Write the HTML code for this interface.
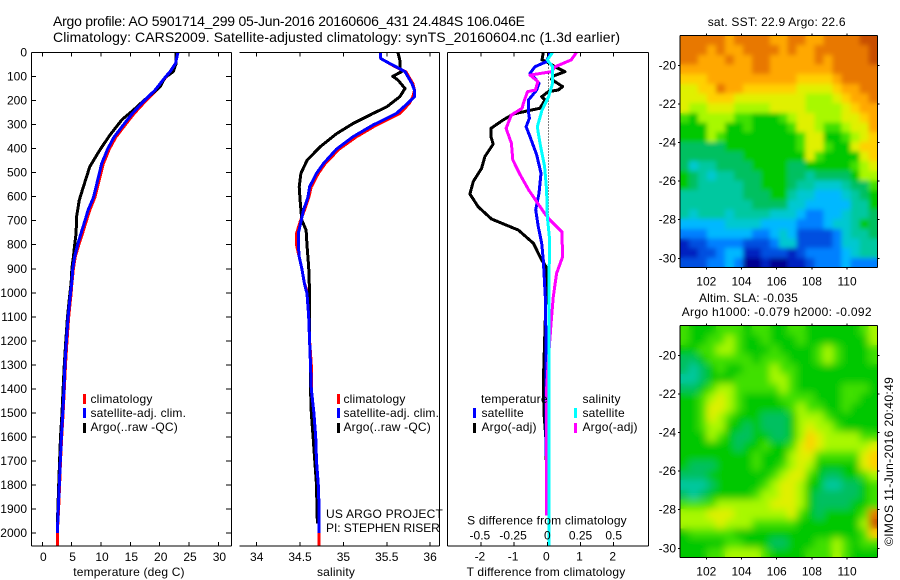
<!DOCTYPE html>
<html>
<head>
<meta charset="utf-8">
<title>Argo profile</title>
<style>
html,body{margin:0;padding:0;background:#fff;}
svg{display:block;}
text{font-family:"Liberation Sans",sans-serif;font-size:12px;fill:#000;letter-spacing:.18px;}
.t14{font-size:14px;letter-spacing:0;}
.m{text-anchor:middle;}
</style>
</head>
<body>
<svg id="chart" xmlns="http://www.w3.org/2000/svg" width="900" height="580" viewBox="0 0 900 580">
  <defs>
    <clipPath id="clip-sst"><rect x="680" y="35.5" width="197.5" height="232"/></clipPath>
    <clipPath id="clip-sla"><rect x="680" y="325.5" width="197.5" height="232"/></clipPath>
    <filter id="soft-sst" filterUnits="userSpaceOnUse" x="660" y="15" width="240" height="275">
      <feGaussianBlur in="SourceGraphic" stdDeviation="2.5" result="b"/>
      <feMerge><feMergeNode in="SourceGraphic"/><feMergeNode in="b"/></feMerge>
    </filter>
    <filter id="soft-sla" filterUnits="userSpaceOnUse" x="660" y="305" width="240" height="275">
      <feGaussianBlur in="SourceGraphic" stdDeviation="4" result="b"/>
      <feMerge><feMergeNode in="SourceGraphic"/><feMergeNode in="b"/></feMerge>
    </filter>
  </defs>
  <text class="t14" x="53" y="26" textLength="472" lengthAdjust="spacing">Argo profile: AO 5901714_299 05-Jun-2016 20160606_431 24.484S 106.046E</text>
  <text class="t14" x="53" y="42" textLength="567" lengthAdjust="spacing">Climatology: CARS2009. Satellite-adjusted climatology: synTS_20160604.nc (1.3d earlier)</text>

  <g clip-path="url(#clip-sst)"><g id="layer-sst" filter="url(#soft-sst)"></g></g>
  <g clip-path="url(#clip-sla)"><g id="layer-sla" filter="url(#soft-sla)"></g></g>
  <g id="layer-series"></g>
  <g id="layer-axes"></g>

  <text class="m" x="129" y="576">temperature (deg C)</text>
  <text class="m" x="336" y="576">salinity</text>
  <text class="m" x="546" y="576">T difference from climatology</text>
  <text class="m" x="547" y="524.5">S difference from climatology</text>

  <g>
    <rect x="83" y="394" width="3" height="10" fill="#f00"/>
    <text x="90.5" y="403">climatology</text>
    <rect x="83" y="408" width="3" height="10" fill="#00f"/>
    <text x="90.5" y="417">satellite-adj. clim.</text>
    <rect x="83" y="423" width="3" height="10" fill="#000"/>
    <text x="90.5" y="431">Argo(..raw -QC)</text>
  </g>
  <g>
    <rect x="337" y="394" width="3" height="10" fill="#f00"/>
    <text x="343.5" y="403">climatology</text>
    <rect x="337" y="408" width="3" height="10" fill="#00f"/>
    <text x="343.5" y="417">satellite-adj. clim.</text>
    <rect x="337" y="423" width="3" height="10" fill="#000"/>
    <text x="343.5" y="431">Argo(..raw -QC)</text>
  </g>
  <text x="326" y="518" textLength="117" lengthAdjust="spacing">US ARGO PROJECT</text>
  <text x="326" y="532" textLength="114" lengthAdjust="spacing">PI: STEPHEN RISER</text>

  <g>
    <text x="481" y="403">temperature</text>
    <rect x="473" y="408" width="3" height="10" fill="#00f"/>
    <text x="481.5" y="417">satellite</text>
    <rect x="473" y="423" width="3" height="10" fill="#000"/>
    <text x="481.5" y="431">Argo(-adj)</text>
    <text x="582.5" y="403">salinity</text>
    <rect x="574" y="408" width="3" height="10" fill="#0ff"/>
    <text x="582.5" y="417">satellite</text>
    <rect x="574" y="423" width="3" height="10" fill="#f0f"/>
    <text x="582.5" y="431">Argo(-adj)</text>
  </g>

  <text x="707.7" y="26" textLength="138" lengthAdjust="spacing">sat. SST: 22.9 Argo: 22.6</text>
  <text x="699" y="302" textLength="99" lengthAdjust="spacing">Altim. SLA: -0.035</text>
  <text x="681.7" y="316" textLength="190" lengthAdjust="spacing">Argo h1000: -0.079 h2000: -0.092</text>
  <text transform="translate(893,546) rotate(-90)" textLength="169" lengthAdjust="spacing">©IMOS 11-Jun-2016 20:40:49</text>
</svg>

<script>
const depthTicks = [0,100,200,300,400,500,600,700,800,900,1000,1100,1200,1300,1400,1500,1600,1700,1800,1900,2000];
const tempTicks = [0,5,10,15,20,25,30];
const salTicks = [34,34.5,35,35.5,36];
const salTickLabels = ["34","34.5","35","35.5","36"];
const tDiffTicks = [-2,-1,0,1,2];
const sDiffTicks = [-0.5,-0.25,0,0.25,0.5];
const sDiffLabels = ["-0.5","-0.25","0","0.25","0.5"];
const lonTicks = [102,104,106,108,110];
const latTicks = [-20,-22,-24,-26,-28,-30];

const climTempDepth = [0,46,80,104,157,202,255,305,353,403,463,505,560,604,656,705,753,802,850,899,961,1003,1100,1200,1300,1400,1500,1600,1700,1800,1900,2000,2054];
const climTemp = [23.1,22.7,21.8,21.0,19.4,17.6,15.6,14.0,12.5,11.4,10.4,9.95,9.4,8.95,8.1,7.45,6.85,6.2,5.6,5.3,5.05,4.9,4.5,4.2,3.95,3.75,3.55,3.3,3.1,2.95,2.78,2.56,2.56];
const adjTempDepth = [0,46,80,104,157,202,255,305,353,403,463,505,560,604,656,705,753,802,850,899,961,1003,1100,1200,1300,1400,1500,1600,1700,1800,1900,2000];
const adjTemp = [23.1,22.7,21.75,20.9,19.2,17.3,15.3,13.7,12.2,11.1,10.1,9.7,9.15,8.7,7.8,7.2,6.6,6.0,5.5,5.2,5.0,4.8,4.4,4.1,3.85,3.7,3.5,3.25,3.07,2.9,2.73,2.56];
const argoTempDepth = [0,46,80,104,143,202,240,279,344,406,475,559,614,683,753,802,850,899,961,1003,1100,1200,1300,1400,1500,1600,1700,1800,1900,1960];
const argoTemp = [22.8,22.8,22.3,20.9,20.05,17.2,15.5,13.6,11.5,9.8,8.1,7.0,6.3,5.85,5.75,5.5,5.3,5.05,4.9,4.7,4.3,4.0,3.75,3.55,3.35,3.1,2.95,2.8,2.65,2.55];

const adjSalDepth = [0,25,39,60,80,129,157,184,212,254,302,351,402,462,503,559,603,656,705,753,802,850,899,961,1003,1100,1200,1300,1400,1500,1600,1700,1800,1900,2000];
const adjSal = [35.43,35.43,35.5,35.61,35.71,35.79,35.82,35.82,35.74,35.61,35.34,35.11,34.92,34.77,34.69,34.61,34.59,34.54,34.51,34.48,34.48,34.49,34.52,34.55,34.58,34.6,34.61,34.62,34.63,34.66,34.68,34.69,34.71,34.72,34.72];
const climSalDepth = [0,25,39,60,80,129,157,184,212,254,302,351,402,462,503,559,603,656,705,753,802,850,899,961,1003,1100,1200,1300,1400,1500,1600,1700,1800,1900,2000,2054];
const climSal = [35.43,35.43,35.5,35.6,35.72,35.8,35.82,35.8,35.76,35.65,35.38,35.15,34.95,34.79,34.71,34.63,34.6,34.55,34.5,34.46,34.46,34.49,34.52,34.55,34.59,34.6,34.61,34.63,34.63,34.66,34.68,34.69,34.71,34.72,34.72,34.72];
const argoSalDepth = [0,32,60,80,99,115,150,184,226,254,296,338,393,449,503,559,614,698,739,802,893,1003,1100,1200,1300,1400,1500,1600,1700,1800,1900,1960];
const argoSal = [35.63,35.65,35.65,35.67,35.57,35.63,35.71,35.65,35.5,35.34,35.11,34.92,34.73,34.58,34.51,34.49,34.5,34.52,34.57,34.58,34.6,34.61,34.61,34.61,34.62,34.62,34.63,34.65,34.67,34.69,34.695,34.7];

const argoTDiffDepth = [0,31,42,59,80,98,112,142,156,163,184,198,232,242,256,281,316,350,381,433,482,537,589,642,693,739,794,864,891,1016,1376,1502,1613,1696];
const argoTDiff = [-0.12,-0.16,0.03,0.23,0.53,0.18,0.13,0.46,0.33,0.03,-0.17,-0.07,-0.22,-0.57,-1.02,-1.33,-1.70,-1.70,-1.63,-1.88,-1.98,-2.23,-2.33,-2.08,-1.68,-0.87,-0.42,-0.17,-0.04,-0.04,-0.12,-0.10,-0.04,-0.04];
const adjTDiffDepth = [0,38,59,87,107,128,156,198,246,274,309,350,426,503,586,655,725,794,864,1016,1200,1680];
const adjTDiff = [0.08,-0.02,-0.37,-0.52,-0.37,-0.25,-0.32,-0.57,-0.57,-0.54,-0.64,-0.52,-0.32,-0.19,-0.25,-0.35,-0.27,-0.17,-0.12,-0.06,-0.04,-0.04];
const adjSDiffDepth = [0,31,59,128,184,240,309,378,475,572,683,766,864,1016,1500,2054];
const adjSDiff = [0.04,0,0.04,0.04,0.01,-0.04,-0.075,-0.055,-0.02,-0.005,0,0.015,0.015,0.012,0.011,0.011];
const argoSDiffDepth = [0,31,59,80,94,121,156,163,212,232,260,316,378,447,503,572,669,697,746,850,919,1016,1114,1266,1400,1600,1927];
const argoSDiff = [0.22,0.18,0.06,0.03,-0.13,-0.07,-0.09,-0.15,-0.18,-0.19,-0.27,-0.31,-0.27,-0.26,-0.21,-0.14,-0.02,0.02,0.11,0.115,0.07,0.045,0.03,0.01,-0.005,-0.005,-0.005];

const mapPalette = ["#000090","#0020c0","#0050e0","#0080ff","#00b8ff","#00c8d0","#00c8a0","#00c060","#00c800","#40e000","#a8f800","#e0f000","#ffd000","#ffa800","#e87800","#c85000"];

const sstLevels = [
[14,14,14,14,14,13,14,14,14,14,13,13,14,14,13,13,14,14,14,14,15,15],
[14,14,14,13,14,13,13,14,14,14,14,13,14,13,13,14,14,14,14,14,14,15],
[14,14,13,13,13,14,13,13,14,14,13,13,13,13,13,14,13,14,14,14,14,15],
[13,13,13,13,13,13,13,13,14,14,13,13,13,13,13,13,13,14,14,14,14,14],
[12,12,12,13,13,13,13,13,13,13,13,13,13,12,12,12,12,13,14,14,14,14],
[11,11,12,12,14,13,13,12,12,12,12,12,12,11,11,11,11,12,13,13,14,14],
[11,11,11,12,12,12,11,11,11,11,11,11,11,11,10,10,10,11,12,13,13,14],
[11,10,10,11,11,11,10,10,10,10,11,11,11,11,10,10,10,10,11,12,13,13],
[9,8,10,10,10,10,9,9,8,8,8,9,10,11,11,10,10,10,11,11,12,13],
[8,8,8,10,10,8,8,9,8,8,8,8,9,11,11,10,9,9,10,11,11,13],
[8,8,8,10,9,8,8,8,8,8,8,8,8,9,11,11,8,8,9,10,11,12],
[7,7,7,7,7,8,8,8,8,8,8,8,8,9,11,11,9,8,8,11,12,12],
[7,7,7,7,7,7,7,8,8,8,8,8,8,8,11,9,8,8,8,8,11,12],
[7,5,6,6,7,7,7,7,8,8,8,8,7,7,8,8,8,8,8,9,10,11],
[8,7,6,5,6,6,7,7,7,8,8,8,7,7,6,7,7,7,7,8,10,10],
[8,7,6,6,6,6,6,7,7,8,8,8,7,6,6,5,5,5,6,7,7,9],
[6,6,6,6,6,6,6,7,7,7,8,8,6,5,5,4,4,4,5,6,7,8],
[6,6,6,6,6,6,6,6,7,7,7,7,5,5,4,4,4,4,4,6,6,8],
[6,5,6,6,6,5,6,6,6,6,5,5,5,4,3,3,4,4,5,6,6,7],
[4,4,4,4,4,5,5,5,5,4,4,4,4,3,3,3,4,5,5,6,8,7],
[3,3,3,4,4,4,4,4,3,3,4,5,4,2,2,2,2,3,5,6,6,7],
[1,2,2,3,3,3,3,2,2,2,3,5,5,2,2,2,2,3,5,5,6,6],
[1,1,2,2,3,4,4,1,1,2,2,2,1,2,3,3,3,3,4,5,6,6],
[2,2,2,3,3,4,3,0,0,1,0,0,1,1,2,3,3,3,4,3,3,3]
];

const slaLevels = [
[9,8,8,8,9,9,9,8,9,9,8,8,9,9,8,8,8,8,8,8,9,10],
[9,8,8,9,9,10,9,8,8,9,8,8,8,9,8,8,8,8,8,8,8,10],
[8,8,9,9,10,10,9,8,8,8,9,8,8,8,8,9,10,9,8,8,8,9],
[7,7,8,9,9,9,9,9,8,9,9,9,8,8,8,9,10,9,8,8,8,9],
[7,6,7,8,9,8,8,9,9,9,10,9,9,8,8,8,8,8,8,8,8,8],
[6,6,7,8,8,8,9,9,9,9,10,10,9,8,8,8,8,8,8,8,8,8],
[7,7,8,9,10,10,9,9,9,9,9,10,9,8,8,8,8,8,9,9,9,8],
[8,8,9,10,11,10,9,8,8,8,8,9,9,9,9,8,8,8,9,9,8,8],
[8,8,9,11,11,10,9,8,8,8,8,8,9,10,9,9,8,8,9,8,8,8],
[8,8,9,11,10,9,8,8,8,7,7,7,8,10,10,10,9,8,8,8,8,8],
[8,8,9,10,10,8,8,7,8,7,7,7,8,10,11,10,10,9,8,8,8,8],
[8,8,8,10,9,8,7,7,8,8,7,7,8,10,12,11,10,10,10,10,9,9],
[8,8,8,8,8,8,7,8,8,9,8,8,9,11,12,11,10,10,10,10,10,11],
[8,8,8,8,8,8,8,8,9,8,8,8,10,11,11,9,9,9,9,9,11,12],
[8,7,7,7,8,8,8,8,9,8,8,9,10,11,10,8,8,8,8,8,11,12],
[7,7,7,8,8,8,8,8,8,8,9,10,11,11,9,8,7,7,8,8,9,10],
[6,6,6,7,8,8,8,8,8,9,10,11,11,10,8,8,6,6,7,7,8,9],
[7,6,7,8,8,8,8,8,9,10,10,11,11,10,8,7,7,7,7,7,8,9],
[9,9,9,9,10,10,10,10,10,10,11,11,11,10,8,7,7,7,7,8,8,9],
[10,10,10,11,11,11,10,10,10,10,10,10,11,9,8,7,8,8,8,8,9,14],
[10,10,10,10,11,10,10,10,9,9,9,9,9,8,8,8,8,8,8,8,10,15],
[8,9,9,9,9,9,8,8,8,8,8,8,8,8,8,8,8,8,8,8,9,12],
[8,8,8,8,8,9,9,8,8,8,7,7,8,8,8,9,9,10,9,8,9,9],
[8,8,8,9,9,10,10,10,10,9,8,8,8,8,9,9,9,10,9,8,8,8]
];

const NS = "http://www.w3.org/2000/svg";
const seriesLayer = document.getElementById("layer-series");
const axesLayer = document.getElementById("layer-axes");
const sstLayer = document.getElementById("layer-sst");
const slaLayer = document.getElementById("layer-sla");

const yDepth = d => 52.5 + d * 0.2403;
const xTemp = v => 42.3 + v * 5.87;
const xSal = v => 256.7 + (v - 34) * 86.7;
const xTDiff = v => 547.3 + v * 33.2;
const xSDiff = v => 547.3 + v * 132.8;
const xLon = v => 706.3 + (v - 102) * 17.6;
const yLatTop = v => 65.3 + (-20 - v) * 19.3;
const yLatBottom = v => 355.3 + (-20 - v) * 19.3;

function drawLine(parent, x1, y1, x2, y2, name, dash) {
  const el = document.createElementNS(NS, "line");
  el.setAttribute("x1", x1);
  el.setAttribute("y1", y1);
  el.setAttribute("x2", x2);
  el.setAttribute("y2", y2);
  el.setAttribute("stroke", "#000");
  el.setAttribute("stroke-width", "1");
  el.setAttribute("shape-rendering", "crispEdges");
  if (dash) el.setAttribute("stroke-dasharray", dash);
  
  
  parent.appendChild(el);
}

function drawLabel(parent, x, y, str, anchor, name) {
  const el = document.createElementNS(NS, "text");
  el.setAttribute("x", x);
  el.setAttribute("y", y);
  el.setAttribute("text-anchor", anchor);
  el.style.letterSpacing = "0";
  el.textContent = str;
  
  
  parent.appendChild(el);
}

function drawSeries(depths, values, xFn, color, name) {
  const el = document.createElementNS(NS, "polyline");
  el.setAttribute("points", depths.map((d, i) => xFn(values[i]).toFixed(1) + "," + yDepth(d).toFixed(1)).join(" "));
  el.setAttribute("fill", "none");
  el.setAttribute("stroke", color);
  el.setAttribute("stroke-width", "3");
  el.setAttribute("stroke-linejoin", "round");
  el.setAttribute("shape-rendering", "crispEdges");
  
  
  seriesLayer.appendChild(el);
}

function drawHeatmap(parent, levels, top, height, name) {
  const left = 680, width = 197.5;
  const rows = levels.length;
  levels.forEach((row, r) => {
    row.forEach((level, c) => {
      const el = document.createElementNS(NS, "rect");
      const x0 = left + width * c / row.length;
      const x1 = left + width * (c + 1) / row.length;
      const y0 = top + height * r / rows;
      const y1 = top + height * (r + 1) / rows;
      el.setAttribute("x", x0.toFixed(2));
      el.setAttribute("y", y0.toFixed(2));
      el.setAttribute("width", (x1 - x0 + 0.4).toFixed(2));
      el.setAttribute("height", (y1 - y0 + 0.4).toFixed(2));
      el.setAttribute("fill", mapPalette[level]);
      el.setAttribute("shape-rendering", "crispEdges");
      
      
      parent.appendChild(el);
    });
  });
}

function drawMapFrame(top, height, yLat, name) {
  const left = 680, right = 877.5, bottom = top + height;
  [[left, top, right, top], [left, bottom, right, bottom], [left, top, left, bottom], [right, top, right, bottom]].forEach(s => {
    drawLine(axesLayer, s[0], s[1], s[2], s[3], name + '-frame');
  });
  lonTicks.forEach(v => {
    drawLine(axesLayer, xLon(v), top - 2, xLon(v), top, name + '-top-tick');
    drawLine(axesLayer, xLon(v), bottom, xLon(v), bottom + 2, name + '-bottom-tick');
    drawLabel(axesLayer, xLon(v), bottom + 18, String(v), "middle", name + '-lon-label');
  });
  latTicks.forEach(v => {
    drawLine(axesLayer, left - 2, yLat(v), left, yLat(v), name + '-left-tick');
    drawLine(axesLayer, right, yLat(v), right + 2, yLat(v), name + '-right-tick');
    drawLabel(axesLayer, left - 4, yLat(v) + 4, String(v), "end", name + '-lat-label');
  });
}

/* temperature panel */
drawSeries(climTempDepth, climTemp, xTemp, "#f00", "climatology-temperature-line");
drawSeries(argoTempDepth, argoTemp, xTemp, "#000", "argo-temperature-line");
drawSeries(adjTempDepth, adjTemp, xTemp, "#00f", "satellite-temperature-line");

/* salinity panel */
drawSeries(climSalDepth, climSal, xSal, "#f00", "climatology-salinity-line");
drawSeries(argoSalDepth, argoSal, xSal, "#000", "argo-salinity-line");
drawSeries(adjSalDepth, adjSal, xSal, "#00f", "satellite-salinity-line");

/* difference panel */
drawLine(seriesLayer, 548.5, 52.5, 548.5, 546, "zero-dotted-line", "1 2");
drawSeries(argoTDiffDepth, argoTDiff, xTDiff, "#000", "argo-t-difference-line");
drawSeries(adjTDiffDepth, adjTDiff, xTDiff, "#00f", "satellite-t-difference-line");
drawSeries(argoSDiffDepth, argoSDiff, xSDiff, "#f0f", "argo-s-difference-line");
drawSeries(adjSDiffDepth, adjSDiff, xSDiff, "#0ff", "satellite-s-difference-line");

/* panel frames */
const top0 = 52.5, bottom0 = 546;
[[31.5, top0, 231.5, top0], [31.5, bottom0, 231.5, bottom0], [31.5, top0, 31.5, bottom0], [231.5, top0, 231.5, bottom0]].forEach(s => {
  drawLine(axesLayer, s[0], s[1], s[2], s[3], 'temperature-panel-frame');
});
[[239.5, top0, 439.5, top0], [239.5, bottom0, 439.5, bottom0], [439.5, top0, 439.5, bottom0]].forEach(s => {
  drawLine(axesLayer, s[0], s[1], s[2], s[3], 'salinity-panel-frame');
});
[[447.5, top0, 648.5, top0], [447.5, bottom0, 648.5, bottom0], [447.5, top0, 447.5, bottom0], [648.5, top0, 648.5, bottom0]].forEach(s => {
  drawLine(axesLayer, s[0], s[1], s[2], s[3], 'difference-panel-frame');
});

depthTicks.forEach(d => {
  drawLine(axesLayer, 31.5, yDepth(d), 36, yDepth(d), 'depth-tick-left');
  drawLine(axesLayer, 226, yDepth(d), 231.5, yDepth(d), 'depth-tick-right');
  drawLabel(axesLayer, 27, yDepth(d) + 4, String(d), "end", 'depth-tick-label');
});
tempTicks.forEach(v => {
  drawLine(axesLayer, xTemp(v), top0, xTemp(v), top0 + 4, 'temperature-top-tick');
  drawLine(axesLayer, xTemp(v), bottom0 - 4, xTemp(v), bottom0, 'temperature-bottom-tick');
  drawLabel(axesLayer, xTemp(v) + 1, 561, String(v), "middle", 'temperature-tick-label');
});
salTicks.forEach((v, i) => {
  drawLine(axesLayer, xSal(v), top0, xSal(v), top0 + 4, 'salinity-top-tick');
  drawLine(axesLayer, xSal(v), bottom0 - 4, xSal(v), bottom0, 'salinity-bottom-tick');
  drawLabel(axesLayer, xSal(v), 561, salTickLabels[i], "middle", 'salinity-tick-label');
});
tDiffTicks.forEach(v => {
  drawLine(axesLayer, xTDiff(v), top0, xTDiff(v), top0 + 4, 'difference-top-tick');
  drawLine(axesLayer, xTDiff(v), bottom0 - 4, xTDiff(v), bottom0, 'difference-bottom-tick');
  drawLabel(axesLayer, xTDiff(v) - 1, 560.5, String(v), "middle", 't-difference-tick-label');
});
sDiffTicks.forEach((v, i) => {
  drawLabel(axesLayer, xSDiff(v) - (v < 0 ? 1 : 0), 539.5, sDiffLabels[i], "middle", 's-difference-tick-label');
});

/* maps */
drawHeatmap(sstLayer, sstLevels, 35.5, 232, "sst-map");
drawHeatmap(slaLayer, slaLevels, 325.5, 232, "sla-map");
drawMapFrame(35.5, 232, yLatTop, "sst-map");
drawMapFrame(325.5, 232, yLatBottom, "sla-map");
</script>
</body>
</html>
